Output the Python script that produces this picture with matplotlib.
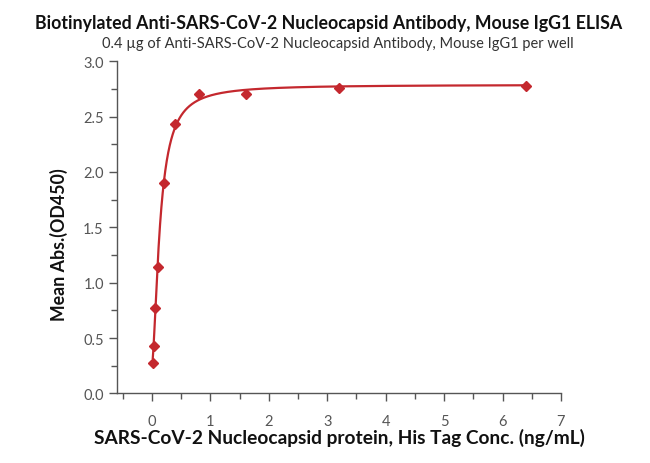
import numpy as np
import matplotlib.pyplot as plt
from matplotlib.ticker import MultipleLocator

# Data
conc = [0.0125, 0.025, 0.05, 0.1, 0.2, 0.4, 0.8, 1.6, 3.2, 6.4]
od450 = [0.27, 0.43, 0.77, 1.14, 1.90, 2.43, 2.70, 2.70, 2.76, 2.78]

title = 'Biotinylated Anti-SARS-CoV-2 Nucleocapsid Antibody, Mouse IgG1 ELISA'
subtitle = '0.4 \u00b5g of Anti-SARS-CoV-2 Nucleocapsid Antibody, Mouse IgG1 per well'
xlabel = 'SARS-CoV-2 Nucleocapsid protein, His Tag Conc. (ng/mL)'
ylabel = 'Mean Abs.(OD450)'

red = '#c4282e'
grey = '#555555'

plt.rcParams['font.family'] = ['Lato', 'DejaVu Sans']

# 4PL fit: grid over ec50 / hill, bottom & top by linear least squares
x = np.array(conc)
y = np.array(od450)
best = None
for ec50 in np.linspace(0.05, 0.4, 141):
    for hill in np.linspace(0.8, 3.0, 111):
        s = 1.0 / (1.0 + (ec50 / x) ** hill)
        A = np.column_stack([1 - s, s])
        coef, res, _, _ = np.linalg.lstsq(A, y, rcond=None)
        err = np.sum((A @ coef - y) ** 2)
        if best is None or err < best[0]:
            best = (err, ec50, hill, coef)
_, ec50, hill, (bottom, top) = best
xf = np.linspace(0.0125, 6.4, 2000)
yf = bottom + (top - bottom) / (1 + (ec50 / xf) ** hill)

fig = plt.figure(figsize=(6.5, 4.64), dpi=100)
ax = fig.add_axes([0.18, 0.150, 0.683, 0.716])

ax.plot(xf, yf, color=red, lw=1.6, zorder=2)
ax.plot(conc, od450, 'D', color=red, ms=5, zorder=3)

ax.set_xlim(-0.6, 7)
ax.set_ylim(0, 3.0)
ax.xaxis.set_major_locator(MultipleLocator(1))
ax.xaxis.set_minor_locator(MultipleLocator(0.5))
ax.yaxis.set_major_locator(MultipleLocator(0.5))
ax.yaxis.set_minor_locator(MultipleLocator(0.25))
ax.yaxis.set_major_formatter(plt.FormatStrFormatter('%.1f'))

for s in ['top', 'right']:
    ax.spines[s].set_visible(False)
for s in ['left', 'bottom']:
    ax.spines[s].set_color(grey)
    ax.spines[s].set_linewidth(1.0)
ax.tick_params(which='major', length=6, width=1, color=grey, labelcolor='#555555', labelsize=10.5)
ax.tick_params(which='minor', length=4, width=1, color=grey)
ax.tick_params(axis='x', pad=9)

ax.set_xlabel(xlabel, fontsize=13.8, fontweight='bold', color='#111111', labelpad=0)
ax.set_ylabel(ylabel, fontsize=12.8, fontweight='bold', color='#111111')
ax.yaxis.set_label_coords(-0.11, 0.45)

fig.text(0.505, 0.938, title, ha='center', fontsize=12.8, fontweight='bold', color='#111111')
fig.text(0.52, 0.897, subtitle, ha='center', fontsize=10.5, color='#333333')

fig.savefig('out.png', dpi=100)
